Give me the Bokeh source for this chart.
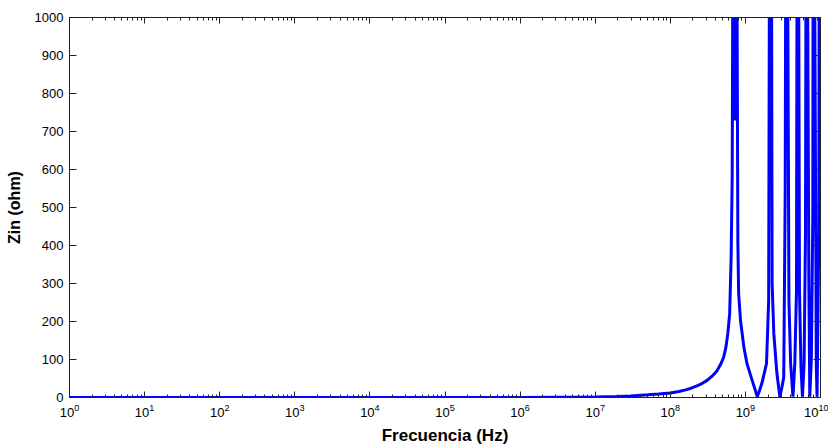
from bokeh.plotting import figure
from bokeh.models import (ColumnDataSource, Range1d, FixedTicker, LogTickFormatter,
                          LogAxis, LinearAxis)
from bokeh.embed import file_html
from bokeh.resources import INLINE

# Frequency samples (Hz) and input impedance (ohm)
freq_hz = [1, 10, 1e2, 1e3, 1e4, 1e5, 1e6, 1e7, 2e7, 3e7, 5e7, 7e7, 1.0e8,
           1.3e8, 1.6e8, 1.86e8, 2.3e8, 2.7e8, 3.09e8, 3.6e8, 4.17e8, 4.7e8,
           5.13e8, 5.5e8, 5.83e8, 6.17e8, 6.46e8, 6.67e8,
           6.9e8, 7.2e8, 7.6e8, 7.94e8, 8.13e8, 8.61e8, 9.55e8, 1.05e9, 1.23e9,
           1.35e9, 1.44e9, 1.55e9, 1.66e9, 1.91e9, 2.04e9, 2.11e9, 2.21e9, 2.27e9,
           2.39e9, 2.63e9, 2.78e9, 2.88e9, 3.05e9, 3.24e9, 3.39e9, 3.47e9, 3.59e9,
           3.80e9, 4.0e9, 4.3e9, 4.55e9, 4.79e9, 4.9e9, 5.07e9, 5.25e9, 5.5e9,
           5.75e9, 6.05e9, 6.31e9, 6.46e9, 6.6e9, 7.0e9, 7.2e9, 7.55e9, 7.9e9,
           8.0e9, 8.2e9, 8.8e9, 9.0e9, 9.5e9, 9.66e9, 1e10]
zin_ohm = [0.0, 0.0, 0.0, 0.0, 0.0, 0.0, 0.1, 1.3, 2.6, 4, 7, 9, 12,
           16, 20, 24, 31, 38, 45, 56, 70, 88,
           106, 132, 168, 220, 370, 580,
           1500, 729, 1500, 405, 273, 203, 132, 89, 45,
           20, 2, 20, 38, 89, 255, 1500, 1500, 300,
           168, 63, 25, 2, 25, 53, 545, 1500, 1500,
           255, 90, 2, 90, 280, 1500, 1500, 280, 80,
           2, 90, 430, 1500, 1500, 300, 2, 100, 475,
           1500, 1500, 80, 2, 430, 1500, 1500]

x_ticks = [1, 10, 1e2, 1e3, 1e4, 1e5, 1e6, 1e7, 1e8, 1e9, 1e10]
y_ticks = [0, 100, 200, 300, 400, 500, 600, 700, 800, 900, 1000]

x_minor = [m * t for t in x_ticks[:-1] for m in range(2, 10)]

src = ColumnDataSource(data=dict(f=freq_hz, z=zin_ohm))

FONT = "Liberation Sans"
AX = "#222222"

p = figure(x_axis_type="log", output_backend="svg", toolbar_location=None,
           frame_width=751, frame_height=380,
           x_range=Range1d(1, 1e10), y_range=Range1d(0, 1000),
           min_border_left=69, min_border_top=17, min_border_right=8,
           min_border_bottom=42)
p.background_fill_color = "white"
p.border_fill_color = "white"
p.outline_line_color = AX
p.outline_line_width = 1
p.grid.visible = False

p.line("f", "z", source=src, line_color="#0000ff", line_width=3)

xa = p.xaxis[0]
xa.ticker = FixedTicker(ticks=x_ticks, minor_ticks=x_minor)
xa.formatter = LogTickFormatter()
xa.axis_label = "Frecuencia (Hz)"
xa.axis_label_text_font = FONT
xa.axis_label_text_font_style = "bold"
xa.axis_label_text_font_size = "17px"
xa.axis_label_standoff = 6
xa.major_label_text_font = FONT
xa.major_label_text_font_size = "13px"
xa.major_label_standoff = 6
xa.major_tick_in = 6
xa.major_tick_out = 0
xa.minor_tick_in = 3
xa.minor_tick_out = 0

ya = p.yaxis[0]
ya.ticker = FixedTicker(ticks=y_ticks)
ya.axis_label = "Zin (ohm)"
ya.axis_label_text_font = FONT
ya.axis_label_text_font_style = "bold"
ya.axis_label_text_font_size = "16px"
ya.axis_label_standoff = 9
ya.major_label_text_font = FONT
ya.major_label_text_font_size = "13px"
ya.major_label_standoff = 6
ya.major_tick_in = 7
ya.major_tick_out = 0
ya.minor_tick_in = 0
ya.minor_tick_out = 0

for ax in (xa, ya):
    ax.axis_line_color = AX
    ax.major_tick_line_color = AX
    ax.minor_tick_line_color = AX
    ax.major_label_text_color = "black"
    ax.axis_label_text_color = "black"

top = LogAxis(ticker=FixedTicker(ticks=x_ticks, minor_ticks=x_minor),
              major_label_overrides={t: "" for t in x_ticks},
              major_label_standoff=0,
              major_tick_in=6, major_tick_out=0, minor_tick_in=3, minor_tick_out=0,
              axis_line_color=AX, major_tick_line_color=AX,
              minor_tick_line_color=AX)
right = LinearAxis(ticker=FixedTicker(ticks=y_ticks),
                   major_label_overrides={t: "" for t in y_ticks},
                   major_label_standoff=0,
                   major_tick_in=7, major_tick_out=0, minor_tick_in=0, minor_tick_out=0,
                   axis_line_color=AX, major_tick_line_color=AX)
p.add_layout(top, "above")
p.add_layout(right, "right")

open("out.html", "w").write(file_html(p, INLINE))
